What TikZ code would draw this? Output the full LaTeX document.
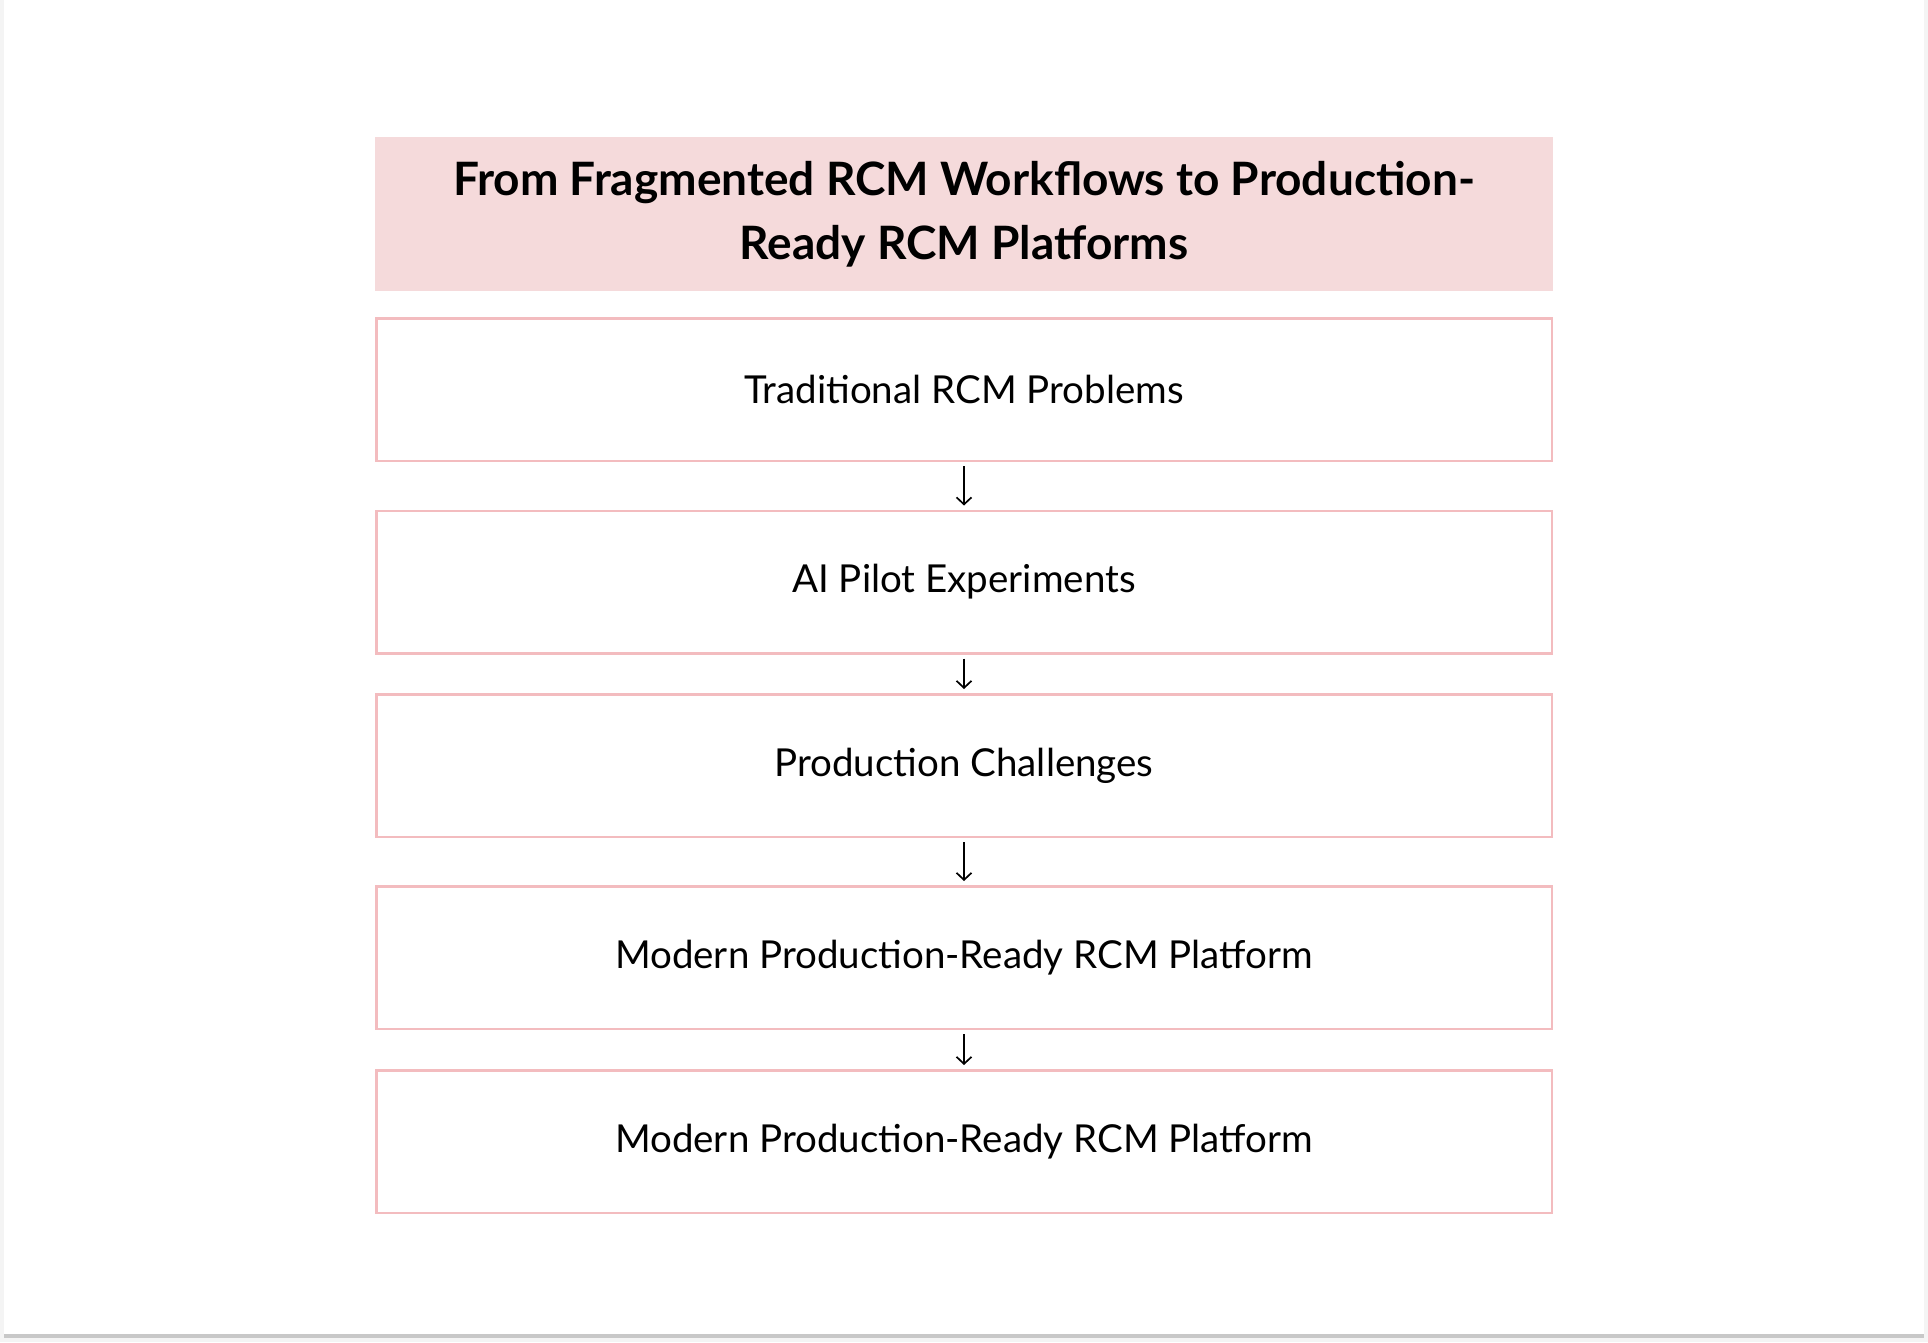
\documentclass[tikz,border=0pt]{standalone}
\usepackage{fontspec}
\setmainfont{Lato}
\usetikzlibrary{arrows.meta}
\definecolor{titlepink}{RGB}{245,218,219}
\definecolor{boxpink}{RGB}{243,188,191}
\definecolor{pagegray}{RGB}{244,244,244}
\definecolor{edgegray}{RGB}{200,200,200}
\begin{document}
\begin{tikzpicture}[x=1pt,y=-1pt,>={Straight Barb[length=7pt,width=15pt]},
  stepbox/.style={draw=boxpink,line width=2.5pt,fill=white,minimum width=1175.5pt,
    minimum height=142.5pt,inner sep=0pt,font=\fontsize{38.5}{46}\selectfont},
  titlebox/.style={fill=titlepink,minimum width=1178pt,minimum height=154pt,
    inner sep=0pt,align=center,font=\fontsize{46}{64}\selectfont\bfseries},
  link/.style={->,line width=1.7pt,shorten <=4pt,shorten >=4pt}]
% page
\fill [pagegray] (0,0) rectangle (1928,1342);
\fill [edgegray] (4,1334) rectangle (1924,1338);
\fill [white] (4,0) rectangle (1924,1334);
\useasboundingbox (0,0) rectangle (1928,1342);
% title and steps
\node [titlebox] (title) at (964,214) {From Fragmented RCM Workflows to Production-\\Ready RCM Platforms};
\node [stepbox] (problems) at (964,389.5) {Traditional RCM Problems};
\node [stepbox] (pilots) at (964,582) {AI Pilot Experiments};
\node [stepbox] (challenges) at (964,765.5) {Production Challenges};
\node [stepbox] (modern) at (964,957.5) {Modern Production-Ready RCM Platform};
\node [stepbox] (platform) at (964,1141.5) {Modern Production-Ready RCM Platform};
% links
\draw [link] (problems) -- (pilots);
\draw [link] (pilots) -- (challenges);
\draw [link] (challenges) -- (modern);
\draw [link] (modern) -- (platform);
\end{tikzpicture}
\end{document}
